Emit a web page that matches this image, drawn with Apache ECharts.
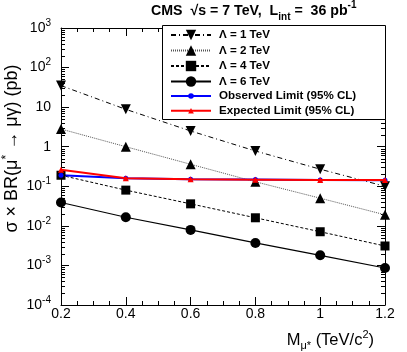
<!DOCTYPE html>
<html>
<head>
<meta charset="utf-8">
<script src="https://cdn.jsdelivr.net/npm/echarts@6/dist/echarts.min.js"></script>
<style>
  html, body { margin: 0; padding: 0; background: #fff; }
  #grafico { width: 407px; height: 352px; }
</style>
</head>
<body>
<div id="grafico"></div>
<script>
/* dados */
var masses = [0.2, 0.4, 0.6, 0.8, 1.0, 1.2];
var lambda1 = [35, 8.8, 2.5, 0.78, 0.27, 0.10];
var lambda2 = [2.8, 1.0, 0.36, 0.13, 0.05, 0.019];
var lambda4 = [0.19, 0.08, 0.036, 0.016, 0.0071, 0.0031];
var lambda6 = [0.039, 0.0165, 0.0079, 0.0037, 0.0018, 0.00086];
var observed = [0.19, 0.16, 0.15, 0.148, 0.145, 0.143];
var expected = [0.26, 0.16, 0.15, 0.147, 0.145, 0.145];

var names = ['Λ = 1 TeV', 'Λ = 2 TeV', 'Λ = 4 TeV', 'Λ = 6 TeV',
             'Observed Limit (95% CL)', 'Expected Limit (95% CL)'];

/* ticks do eixo y (log) */
var yDecades = [1e-4, 1e-3, 1e-2, 1e-1, 1, 10, 100];
var yMinorMult = [2, 3, 4, 5, 6, 7, 8, 9];
var yMinor = [];
yDecades.forEach(function (d) {
    yMinorMult.forEach(function (m) { yMinor.push([0.2, m * d]); });
});

function pares(ys) {
    return masses.map(function (m, i) { return [m, ys[i]]; });
}

var FONT = '"Liberation Sans", Arial, sans-serif';

/* uma legenda por linha, para posicionar cada linha da caixa */
var legendRows = [35, 50.5, 66, 81.5, 96, 110.7];
var legendas = names.map(function (n, i) {
    var alto = i < 4 ? 13 : 7;
    return {
        data: [n],
        orient: 'vertical',
        left: 170,
        top: legendRows[i] - 6.5,
        padding: 0,
        itemWidth: 40,
        itemHeight: alto,
        z: 6,
        textStyle: {
            fontFamily: FONT, fontSize: 11.6, fontWeight: 'bold', color: '#000',
            lineHeight: 13, padding: [0, 0, 0, 3]
        }
    };
});

var dom = document.getElementById('grafico');
var myChart = echarts.init(dom);

var eixoX = {
    type: 'value',
    min: 0.2,
    max: 1.2,
    interval: 0.2,
    axisLine: { lineStyle: { color: '#000', width: 1 } },
    axisTick: { inside: true, length: 8, lineStyle: { color: '#000' } },
    minorTick: { show: true, splitNumber: 4, length: 4, lineStyle: { color: '#000' } },
    splitLine: { show: false }
};

var eixoY = {
    type: 'log',
    logBase: 10,
    min: 1e-4,
    max: 1e3,
    interval: 1,
    axisLine: { show: true, lineStyle: { color: '#000', width: 1 } },
    axisTick: { show: true, inside: true, length: 8, lineStyle: { color: '#000' } },
    splitLine: { show: false }
};

var option = {
    animation: false,
    backgroundColor: '#fff',
    textStyle: { fontFamily: FONT },
    title: {
        left: 151,
        top: 0,
        padding: 0,
        text: '{b|CMS  √s = 7 TeV,  L}{sub|int}{b| =  36 pb}{sup|-1}',
        textStyle: {
            rich: {
                b: { fontFamily: FONT, fontSize: 14.2, fontWeight: 'bold', color: '#000', lineHeight: 22 },
                sub: { fontFamily: FONT, fontSize: 10, fontWeight: 'bold', color: '#000', verticalAlign: 'bottom', lineHeight: 10 },
                sup: { fontFamily: FONT, fontSize: 10, fontWeight: 'bold', color: '#000', verticalAlign: 'top', lineHeight: 10 }
            }
        }
    },
    grid: { left: 61, right: 22, top: 28, bottom: 47, containLabel: false, outerBoundsMode: 'none' },
    graphic: [{
        type: 'rect',
        z: 5,
        shape: { x: 162.5, y: 25.5, width: 223, height: 94 },
        style: { fill: '#fff', stroke: '#000', lineWidth: 1 }
    }],
    legend: legendas,
    xAxis: [
        Object.assign({}, eixoX, {
            position: 'bottom',
            axisLabel: {
                margin: 2,
                fontFamily: FONT,
                fontSize: 14,
                color: '#000',
                formatter: function (v) { return String(+v.toFixed(1)); }
            },
            name: '{n|M}{sub|μ*}{n| (TeV/c}{sup|2}{n|)}',
            nameLocation: 'end',
            nameGap: 0,
            nameMoveOverlap: false,
            nameTextStyle: {
                align: 'right',
                verticalAlign: 'top',
                padding: [24, 11, 0, 0],
                rich: {
                    n: { fontFamily: FONT, fontSize: 16.5, color: '#000', lineHeight: 22 },
                    sub: { fontFamily: FONT, fontSize: 11, color: '#000', verticalAlign: 'bottom', lineHeight: 10 },
                    sup: { fontFamily: FONT, fontSize: 11, color: '#000', verticalAlign: 'top', lineHeight: 10 }
                }
            }
        }),
        Object.assign({}, eixoX, { position: 'top', axisLabel: { show: false } })
    ],
    yAxis: [
        Object.assign({}, eixoY, {
            position: 'left',
            axisLabel: {
                margin: 10,
                color: '#000',
                formatter: function (v) {
                    var e = Math.round(Math.log10(v));
                    if (e === 0) return '{b|1}';
                    if (e === 1) return '{b|10}';
                    return '{b|10}{s|' + e + '}';
                },
                rich: {
                    b: { fontFamily: FONT, fontSize: 14, color: '#000', lineHeight: 20 },
                    s: { fontFamily: FONT, fontSize: 10, color: '#000', verticalAlign: 'top', lineHeight: 10 }
                }
            },
            name: '{n|σ × BR(μ}{s|*}{n| → μγ) (pb)}',
            nameLocation: 'middle',
            nameRotate: 90,
            nameGap: 38,
            nameMoveOverlap: false,
            nameTextStyle: {
                padding: [0, 0, 0, 36],
                rich: {
                    n: { fontFamily: FONT, fontSize: 18, color: '#000', lineHeight: 22 },
                    s: { fontFamily: FONT, fontSize: 12, color: '#000', verticalAlign: 'top', lineHeight: 10 }
                }
            }
        }),
        Object.assign({}, eixoY, { position: 'right', axisLabel: { show: false } })
    ],
    series: [{
        name: names[0],
        type: 'line',
        data: pares(lambda1),
        symbol: 'triangle',
        symbolRotate: 180,
        symbolSize: 10,
        clip: false,
        itemStyle: { color: '#000' },
        lineStyle: { color: '#000', width: 1, type: [5, 3, 1, 3] }
    }, {
        name: names[1],
        type: 'line',
        data: pares(lambda2),
        symbol: 'triangle',
        symbolSize: 10,
        clip: false,
        itemStyle: { color: '#000' },
        lineStyle: { color: '#555', width: 1, type: [1, 1] }
    }, {
        name: names[2],
        type: 'line',
        data: pares(lambda4),
        symbol: 'rect',
        symbolSize: 9,
        clip: false,
        itemStyle: { color: '#000' },
        lineStyle: { color: '#000', width: 1, type: [3, 2] }
    }, {
        name: names[3],
        type: 'line',
        data: pares(lambda6),
        symbol: 'circle',
        symbolSize: 10,
        clip: false,
        itemStyle: { color: '#000' },
        lineStyle: { color: '#000', width: 1.2, type: 'solid' }
    }, {
        name: names[4],
        type: 'line',
        data: pares(observed),
        symbol: 'circle',
        symbolSize: 5,
        clip: false,
        z: 3,
        itemStyle: { color: '#0000ff' },
        lineStyle: { color: '#0000ff', width: 2 }
    }, {
        name: names[5],
        type: 'line',
        data: pares(expected),
        symbol: 'triangle',
        symbolSize: 6,
        clip: false,
        z: 4,
        itemStyle: { color: '#ff0000' },
        lineStyle: { color: '#ff0000', width: 2 }
    }, {
        /* ticks menores do eixo log, esquerda e direita */
        type: 'custom',
        silent: true,
        data: yMinor,
        renderItem: function (params, api) {
            var p = api.coord([api.value(0), api.value(1)]);
            var cs = params.coordSys;
            var y = Math.round(p[1]) + 0.5;
            return {
                type: 'group',
                children: [{
                    type: 'line',
                    shape: { x1: cs.x, y1: y, x2: cs.x + 4, y2: y },
                    style: { stroke: '#000', lineWidth: 1 }
                }, {
                    type: 'line',
                    shape: { x1: cs.x + cs.width - 4, y1: y, x2: cs.x + cs.width, y2: y },
                    style: { stroke: '#000', lineWidth: 1 }
                }]
            };
        }
    }]
};

if (option && typeof option === 'object') {
    myChart.setOption(option, true);
}
</script>
</body>
</html>
